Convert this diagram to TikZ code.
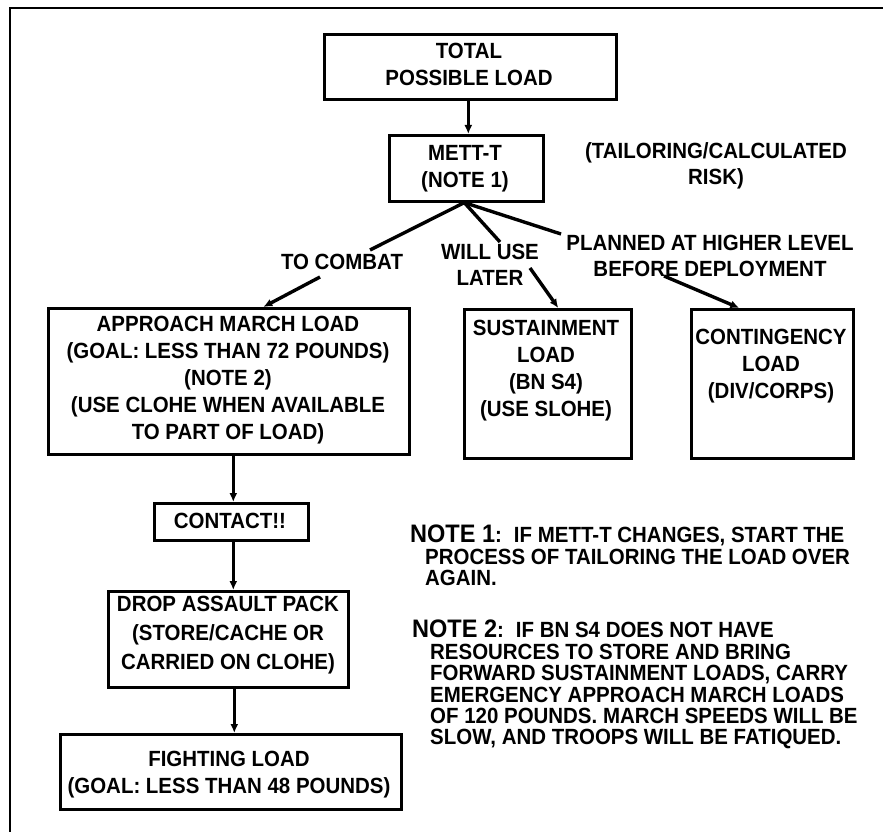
\documentclass[tikz,border=0pt]{standalone}
\usepackage{fontspec}
\setmainfont{Liberation Sans}[FakeStretch=0.93]
\usetikzlibrary{arrows.meta}
\begin{document}
\begin{tikzpicture}[x=1pt,y=-1pt,
  box/.style={draw, line width=2.6pt, inner sep=0pt, anchor=north west},
  txt/.style={align=center, inner sep=0pt, font=\fontsize{22}{27}\selectfont\bfseries},
  lbl/.style={align=center, inner sep=0pt, font=\fontsize{22}{26}\selectfont\bfseries},
  notetxt/.style={anchor=north west, align=left, inner sep=0pt, font=\fontsize{22}{21.4}\selectfont\bfseries},
  con/.style={line width=3.4pt},
  arr/.style={line width=3.4pt, -{Latex[length=9pt,width=8pt]}},
]
\useasboundingbox (0,0) rectangle (883,832);
\newcommand{\notehead}[1]{{\fontsize{25.3}{21.4}\selectfont #1}}
% frame
\draw[line width=2pt] (883,8) -- (10,8) -- (10,832);

% boxes
\node[box, minimum width=292pt, minimum height=65pt] (total) at (323,33) {};
\node[txt] (totaltxt) at (469,64) {TOTAL\\POSSIBLE LOAD};

\node[box, minimum width=154pt, minimum height=66pt] (mett) at (388,134) {};
\node[txt] (metttxt) at (465,169) {METT-T\\(NOTE 1)};

\node[lbl] (tailor) at (716,166) {(TAILORING/CALCULATED\\RISK)};

\node[box, minimum width=361pt, minimum height=146pt] (app) at (47,307) {};
\node[txt] (apptxt) at (228,380) {APPROACH MARCH LOAD\\(GOAL: LESS THAN 72 POUNDS)\\(NOTE 2)\\(USE CLOHE WHEN AVAILABLE\\TO PART OF LOAD)};

\node[box, minimum width=167pt, minimum height=149pt] (sus) at (463,308) {};
\node[txt] (sustxt) at (546,371) {SUSTAINMENT\\LOAD\\(BN S4)\\(USE SLOHE)};

\node[box, minimum width=162pt, minimum height=149pt] (cont) at (690,308) {};
\node[txt] (conttxt) at (771,366) {CONTINGENCY\\LOAD\\(DIV/CORPS)};

\node[box, minimum width=154pt, minimum height=37pt] (contact) at (153,502) {};
\node[txt] (contacttxt) at (230,521) {CONTACT!!};

\node[box, minimum width=240pt, minimum height=96pt] (drop) at (107,590) {};
\node[txt, font=\fontsize{22}{29}\selectfont\bfseries] (droptxt) at (228,635) {DROP ASSAULT PACK\\(STORE/CACHE OR\\CARRIED ON CLOHE)};

\node[box, minimum width=341pt, minimum height=75pt] (fight) at (59,733) {};
\node[txt] (fighttxt) at (229,775) {FIGHTING LOAD\\(GOAL: LESS THAN 48 POUNDS)};

% branch labels
\node[lbl] (combat) at (342,262) {TO COMBAT};
\node[lbl] (later) at (490,265) {WILL USE\\LATER};
\node[lbl] (planned) at (710,256) {PLANNED AT HIGHER LEVEL\\BEFORE DEPLOYMENT};

% label attachment points
\coordinate (c1) at (370,250);
\coordinate (c2) at (320,277);
\coordinate (w1) at (500,242);
\coordinate (w2) at (530,268);
\coordinate (p1) at (561,234);
\coordinate (p2) at (664,276);

% connectors
\draw[arr] ([xshift=-2pt]total.south) -- ([xshift=2pt]mett.north);
\draw[con] ([xshift=-2pt]mett.south) -- (c1);
\draw[arr] (c2) -- ([xshift=34.5pt]app.north);
\draw[con] ([xshift=-2pt]mett.south) -- (w1);
\draw[arr] (w2) -- ([xshift=10.5pt]sus.north);
\draw[con] ([xshift=-2pt]mett.south) -- (p1);
\draw[arr] (p2) -- ([xshift=-33pt]cont.north);

\draw[arr] ([xshift=4.5pt]app.south) -- ([xshift=2pt]contact.north);
\draw[arr] ([xshift=2pt]contact.south) -- ([xshift=5pt]drop.north);
\draw[arr] ([xshift=6pt]drop.south) -- ([xshift=3.5pt]fight.north);

% notes
\node[notetxt] (note1) at (410,525) {\notehead{NOTE 1}:\hspace{12pt}IF METT-T CHANGES, START THE\\\hspace*{15pt}PROCESS OF TAILORING THE LOAD OVER\\\hspace*{15pt}AGAIN.};
\node[notetxt] (note2) at (412,620) {\notehead{NOTE 2}:\hspace{12pt}IF BN S4 DOES NOT HAVE\\\hspace*{18pt}RESOURCES TO STORE AND BRING\\\hspace*{18pt}FORWARD SUSTAINMENT LOADS, CARRY\\\hspace*{18pt}EMERGENCY APPROACH MARCH LOADS\\\hspace*{18pt}OF 120 POUNDS. MARCH SPEEDS WILL BE\\\hspace*{18pt}SLOW, AND TROOPS WILL BE FATIQUED.};
\end{tikzpicture}
\end{document}
